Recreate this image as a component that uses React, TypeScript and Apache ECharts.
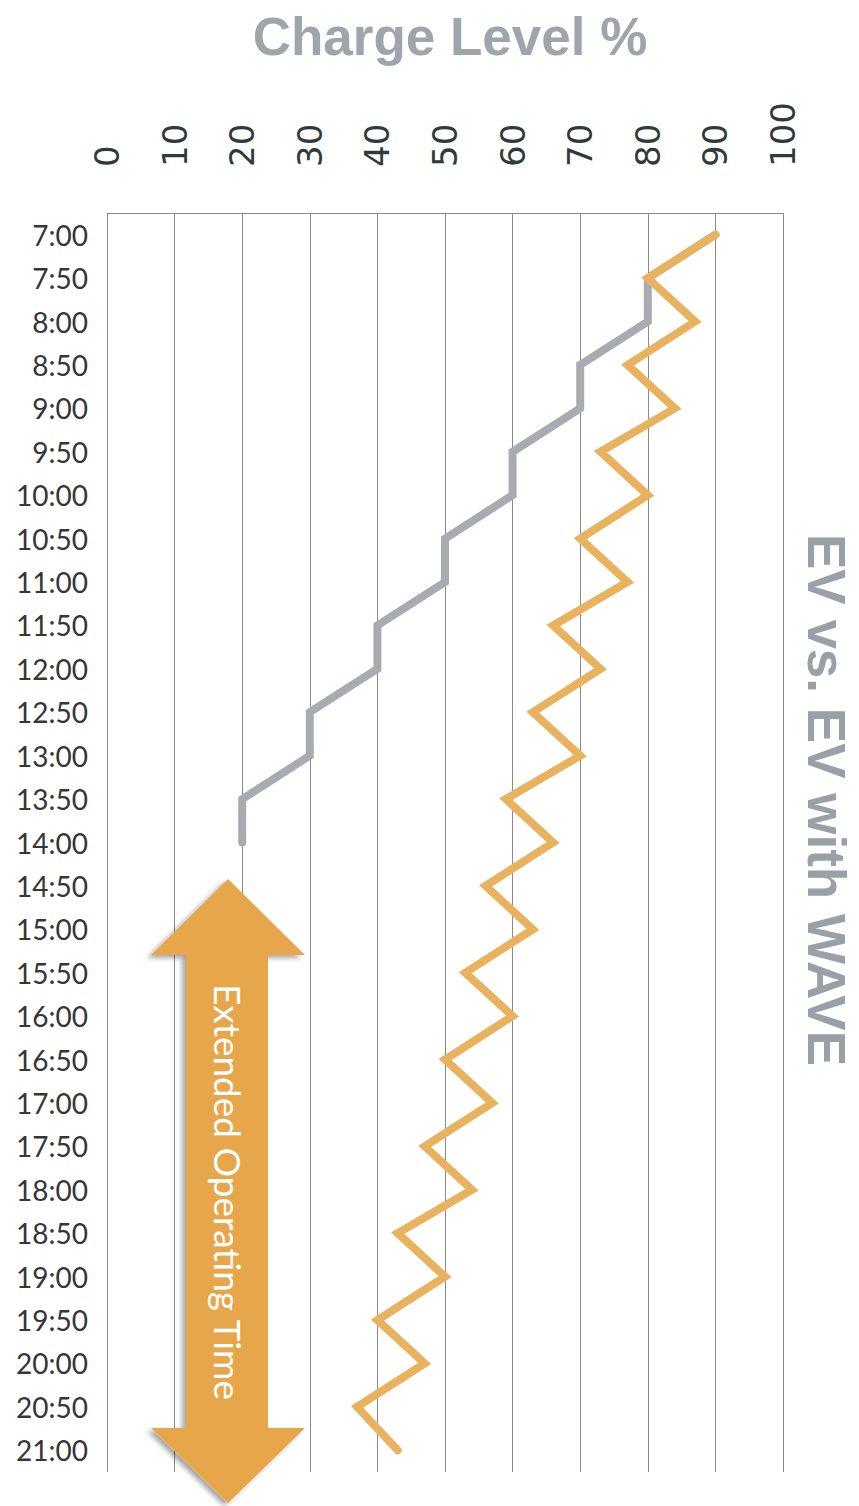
import React, { useEffect, useRef } from "react";
import * as echarts from "echarts";

const times = [
  "7:00", "7:50", "8:00", "8:50", "9:00", "9:50", "10:00", "10:50", "11:00", "11:50",
  "12:00", "12:50", "13:00", "13:50", "14:00", "14:50", "15:00", "15:50", "16:00", "16:50",
  "17:00", "17:50", "18:00", "18:50", "19:00", "19:50", "20:00", "20:50", "21:00",
];

// EV without WAVE (ends at 14:00)
const evLevel = [90, 80, 80, 70, 70, 60, 60, 50, 50, 40, 40, 30, 30, 20, 20];

// EV with WAVE (charging bursts)
const waveLevel = [
  90, 80, 87, 77, 84, 73, 80, 70, 77, 66,
  73, 63, 70, 59, 66, 56, 63, 53, 60, 50,
  57, 47, 54, 43, 50, 40, 47, 37, 43,
];

const chargeTicks = { min: 0, max: 100, interval: 10 };

const xTitle = "Charge Level %";
const sideTitle = "EV vs. EV with WAVE";
const arrowLabel = "Extended Operating Time";

export default function App() {
  const ref = useRef<HTMLDivElement>(null);

  useEffect(() => {
    if (!ref.current) return;
    const chart = echarts.init(ref.current, undefined, { renderer: "svg" });

    const arrowColor = "#e8a64c";
    const cx = 228;
    const arrowPts = [
      [cx, 879],
      [cx + 77, 955],
      [cx + 40, 955],
      [cx + 40, 1428],
      [cx + 77, 1428],
      [cx, 1503],
      [cx - 77, 1428],
      [cx - 42, 1428],
      [cx - 42, 955],
      [cx - 77, 955],
    ];

    chart.setOption({
      animation: false,
      backgroundColor: "#ffffff",
      grid: {
        left: 107,
        right: 76,
        top: 213,
        bottom: 34,
        containLabel: false,
        outerBoundsMode: "none",
      },
      xAxis: {
        type: "value",
        position: "top",
        min: chargeTicks.min,
        max: chargeTicks.max,
        interval: chargeTicks.interval,
        axisLine: { show: true, lineStyle: { color: "#8a8a8a", width: 1 } },
        axisTick: { show: false },
        axisLabel: {
          rotate: -90,
          margin: 46,
          fontFamily: "DejaVu Sans",
          fontSize: 34,
          color: "#2e3b3c",
        },
        splitLine: { show: true, lineStyle: { color: "#8a8a8a", width: 1 } },
      },
      yAxis: {
        type: "category",
        inverse: true,
        boundaryGap: true,
        data: times,
        axisLine: { show: false },
        axisTick: { show: false },
        axisLabel: {
          margin: 19,
          fontFamily: "Lato",
          fontSize: 28,
          color: "#363636",
        },
        splitLine: { show: false },
      },
      series: [
        {
          name: "EV",
          type: "line",
          data: evLevel.map((v, i) => [v, times[i]]),
          showSymbol: false,
          symbol: "none",
          lineStyle: { color: "#a8acb1", width: 8, cap: "round", join: "miter" },
          z: 3,
        },
        {
          name: "EV with WAVE",
          type: "line",
          data: waveLevel.map((v, i) => [v, times[i]]),
          showSymbol: false,
          symbol: "none",
          lineStyle: { color: "#e9b25f", width: 8, cap: "round", join: "miter" },
          z: 4,
        },
      ],
      graphic: [
        {
          type: "text",
          x: 450,
          y: 36,
          style: {
            text: xTitle,
            fontFamily: "Liberation Sans",
            fontWeight: "bold",
            fontSize: 53,
            fill: "#9ea6ac",
            align: "center",
            verticalAlign: "middle",
          },
          z: 10,
        },
        {
          type: "text",
          x: 826,
          y: 800,
          rotation: -Math.PI / 2,
          style: {
            text: sideTitle,
            fontFamily: "Liberation Sans",
            fontWeight: "bold",
            fontSize: 53,
            fill: "#99a1a7",
            align: "center",
            verticalAlign: "middle",
          },
          z: 10,
        },
        {
          type: "polygon",
          shape: { points: arrowPts },
          style: {
            fill: arrowColor,
            shadowColor: "rgba(0,0,0,0.35)",
            shadowBlur: 5,
            shadowOffsetX: -4,
            shadowOffsetY: 3,
          },
          z: 20,
        },
        {
          type: "text",
          x: cx,
          y: 1192,
          rotation: -Math.PI / 2,
          style: {
            text: arrowLabel,
            fontFamily: "Lato",
            fontSize: 37,
            fill: "#ffffff",
            align: "center",
            verticalAlign: "middle",
          },
          z: 21,
        },
      ],
    });

    return () => chart.dispose();
  }, []);

  return (
    <div
      ref={ref}
      style={{ position: "absolute", left: 0, top: 0, width: 859, height: 1506 }}
    />
  );
}
